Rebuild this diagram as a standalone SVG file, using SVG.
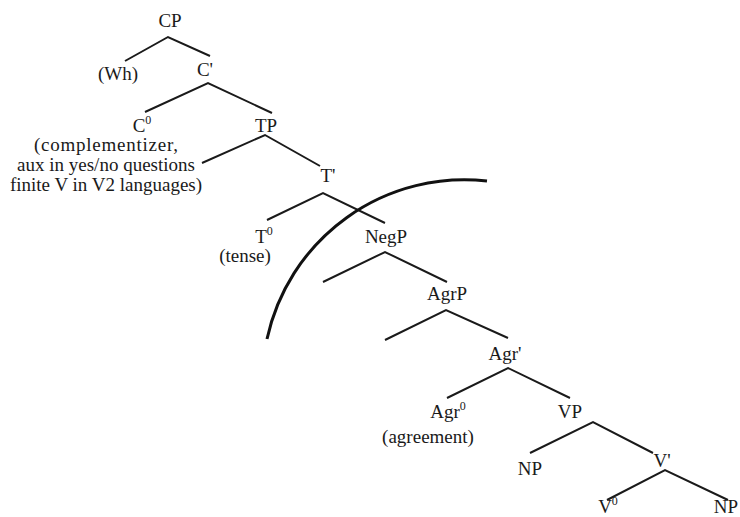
<svg xmlns="http://www.w3.org/2000/svg" width="740" height="517" viewBox="0 0 740 517">
<style>
text{font-family:"Liberation Serif","Times New Roman",serif;font-size:19px;fill:#1a1a1a;text-anchor:middle}
.sup{font-size:12px}
.br{fill:none;stroke:#1a1a1a;stroke-width:2;stroke-linecap:butt;stroke-linejoin:miter}
.arc{fill:none;stroke:#111;stroke-width:3}
</style>
<rect width="740" height="517" fill="#fff"/>
<g id="connectors">
<path class="br" d="M125,61 L168,37 L210,56"/>
<path class="br" d="M145,112 L208,83 L272,113"/>
<path class="br" d="M202,163 L265,135 L320,166"/>
<path class="br" d="M267,220 L323,193 L385,223"/>
<path class="br" d="M323,282 L385,252 L447,282"/>
<path class="br" d="M385,340 L446,310 L508,338"/>
<path class="br" d="M447,398 L508,368 L570,398"/>
<path class="br" d="M530,453 L593,422 L653,453"/>
<path class="br" d="M607,500 L665,470 L728,500"/>
</g>
<g id="boundary">
<path class="arc" d="M487,181 A202,202 0 0 0 267,339"/>
</g>
<g id="CP"><text x="170" y="27">CP</text></g>
<g id="Wh"><text x="118" y="80">(Wh)</text></g>
<g id="Cbar"><text x="205" y="76">C'</text></g>
<g id="C0"><text x="142" y="132">C<tspan class="sup" dy="-8">0</tspan></text>
<text x="106" y="151" textLength="144" lengthAdjust="spacing">(complementizer,</text>
<text x="106" y="171">aux in yes/no questions</text>
<text x="106" y="191">finite V in V2 languages)</text></g>
<g id="TP"><text x="266" y="132">TP</text></g>
<g id="Tbar"><text x="328" y="182">T'</text></g>
<g id="T0"><text x="264" y="243">T<tspan class="sup" dy="-8">0</tspan></text>
<text x="245" y="262">(tense)</text></g>
<g id="NegP"><text x="386" y="243">NegP</text></g>
<g id="AgrP"><text x="447" y="300">AgrP</text></g>
<g id="Agrbar"><text x="505" y="360">Agr'</text></g>
<g id="Agr0"><text x="448" y="418">Agr<tspan class="sup" dy="-8">0</tspan></text>
<text x="428" y="443">(agreement)</text></g>
<g id="VP"><text x="570" y="418">VP</text></g>
<g id="NP1"><text x="530" y="475">NP</text></g>
<g id="Vbar"><text x="662" y="467">V'</text></g>
<g id="V0"><text x="608" y="513">V<tspan class="sup" dy="-8">0</tspan></text></g>
<g id="NP2"><text x="726" y="513">NP</text></g>
</svg>
